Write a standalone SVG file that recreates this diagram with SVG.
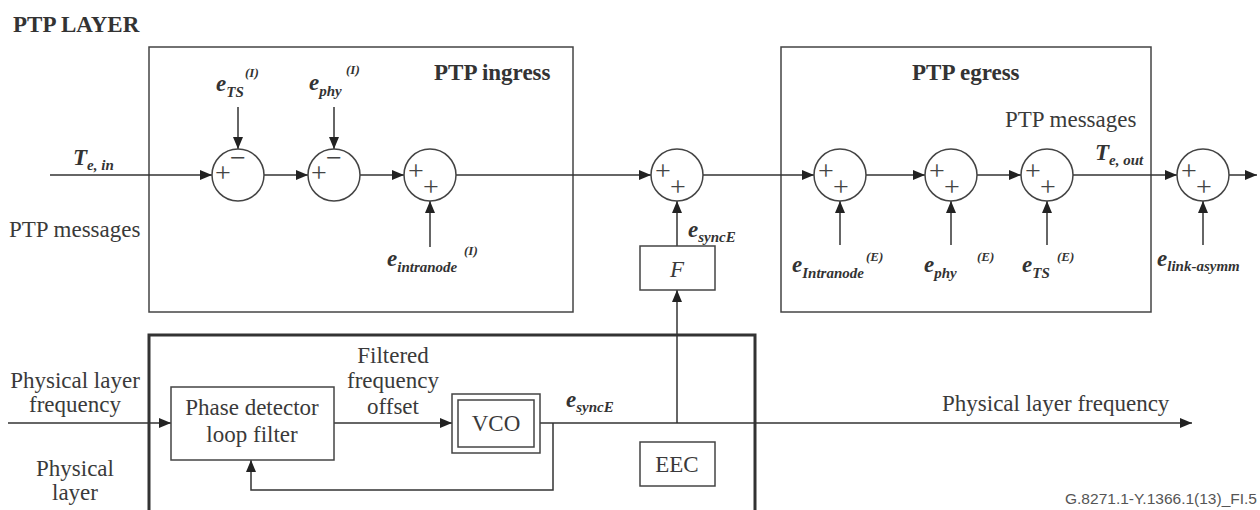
<svg xmlns="http://www.w3.org/2000/svg" width="1260" height="510" viewBox="0 0 1260 510">
<style>
.bg{fill:#fff}
.box{fill:none;stroke:#444;stroke-width:1.5}
.thick{fill:none;stroke:#333;stroke-width:3}
.sum{fill:#fff;stroke:#444;stroke-width:1.5}
.ln{fill:none;stroke:#333;stroke-width:1.5}
.ar{marker-end:url(#arr)}
.t{font-family:"Liberation Serif","Times New Roman",serif;font-size:23px;fill:#3a3a3a}
.tb{font-family:"Liberation Serif","Times New Roman",serif;font-size:23px;font-weight:bold;fill:#333}
.sg{font-family:"Liberation Serif","Times New Roman",serif;font-size:28px;fill:#444;text-anchor:middle}
.e{font-family:"Liberation Serif","Times New Roman",serif;font-size:23px;font-weight:bold;font-style:italic;fill:#333}
.sub{font-size:15px}
.sup{font-family:"Liberation Serif","Times New Roman",serif;font-size:13px;font-weight:bold;font-style:italic;fill:#333}
.c{text-anchor:middle}
.foot{font-family:"Liberation Sans",Arial,sans-serif;font-size:15px;fill:#555}
</style>
<defs>
<marker id="arr" viewBox="0 0 12 10" refX="12" refY="5" markerWidth="12" markerHeight="10" orient="auto" markerUnits="userSpaceOnUse">
<path d="M0,0 L12,5 L0,10 z" fill="#222"/>
</marker>
</defs>
<rect class="bg" x="0" y="0" width="1260" height="510"/>

<text class="tb" x="13" y="32">PTP LAYER</text>

<g id="ptp-ingress">
<rect class="box" x="149" y="47" width="424" height="265"/>
<text class="tb" x="434" y="80">PTP ingress</text>
</g>
<g id="ptp-egress">
<rect class="box" x="781" y="47" width="370" height="265"/>
<text class="tb" x="912" y="80">PTP egress</text>
<text class="t" x="1005" y="127">PTP messages</text>
</g>
<g id="physical-box">
<rect class="thick" x="149" y="335" width="606" height="200"/>
</g>

<g id="connectors">
<path class="ln ar" d="M50,175 H212"/>
<path class="ln ar" d="M264,175 H308"/>
<path class="ln ar" d="M360,175 H404"/>
<path class="ln ar" d="M456,175 H651"/>
<path class="ln ar" d="M703,175 H814"/>
<path class="ln ar" d="M866,175 H925"/>
<path class="ln ar" d="M977,175 H1021"/>
<path class="ln ar" d="M1073,175 H1177"/>
<path class="ln ar" d="M1229,175 H1257"/>
<path class="ln ar" d="M238,107 V149"/>
<path class="ln ar" d="M334,107 V149"/>
<path class="ln ar" d="M430,247 V201"/>
<path class="ln ar" d="M677,246 V201"/>
<path class="ln ar" d="M840,245 V201"/>
<path class="ln ar" d="M951,245 V201"/>
<path class="ln ar" d="M1047,245 V201"/>
<path class="ln ar" d="M1203,245 V201"/>
<path class="ln ar" d="M677,423 V290"/>
<path class="ln ar" d="M8,423 H171"/>
<path class="ln ar" d="M334,423 H452"/>
<path class="ln ar" d="M540,423 H1192"/>
<path class="ln ar" d="M553,423 V490 H251 V460"/>
</g>

<g id="sum-ts-in">
<circle class="sum" cx="238" cy="175" r="26"/>
<text class="sg" x="223" y="182">+</text>
<text class="sg" x="238" y="167">−</text>
</g>
<g id="sum-phy-in">
<circle class="sum" cx="334" cy="175" r="26"/>
<text class="sg" x="319" y="182">+</text>
<text class="sg" x="334" y="167">−</text>
</g>
<g id="sum-intranode-in">
<circle class="sum" cx="430" cy="175" r="26"/>
<text class="sg" x="416" y="180">+</text>
<text class="sg" x="431" y="196">+</text>
</g>
<g id="sum-synce">
<circle class="sum" cx="677" cy="175" r="26"/>
<text class="sg" x="663" y="180">+</text>
<text class="sg" x="678" y="196">+</text>
</g>
<g id="sum-intranode-out">
<circle class="sum" cx="840" cy="175" r="26"/>
<text class="sg" x="826" y="180">+</text>
<text class="sg" x="841" y="196">+</text>
</g>
<g id="sum-phy-out">
<circle class="sum" cx="951" cy="175" r="26"/>
<text class="sg" x="937" y="180">+</text>
<text class="sg" x="952" y="196">+</text>
</g>
<g id="sum-ts-out">
<circle class="sum" cx="1047" cy="175" r="26"/>
<text class="sg" x="1033" y="180">+</text>
<text class="sg" x="1048" y="196">+</text>
</g>
<g id="sum-link">
<circle class="sum" cx="1203" cy="175" r="26"/>
<text class="sg" x="1189" y="180">+</text>
<text class="sg" x="1204" y="196">+</text>
</g>

<g id="labels-ptp">
<text class="e" x="73" y="165">T<tspan class="sub" dy="5">e, in</tspan></text>
<text class="t" x="9" y="237">PTP messages</text>
<text class="e" x="216" y="91">e<tspan class="sub" dy="6">TS</tspan></text>
<text class="sup" x="245" y="77">(I)</text>
<text class="e" x="309" y="90">e<tspan class="sub" dy="6">phy</tspan></text>
<text class="sup" x="346" y="74">(I)</text>
<text class="e" x="387" y="266">e<tspan class="sub" dy="6">intranode</tspan></text>
<text class="sup" x="464" y="255">(I)</text>
<text class="e" x="792" y="272">e<tspan class="sub" dy="6">Intranode</tspan></text>
<text class="sup" x="866" y="261">(E)</text>
<text class="e" x="924" y="272">e<tspan class="sub" dy="6">phy</tspan></text>
<text class="sup" x="977" y="261">(E)</text>
<text class="e" x="1022" y="272">e<tspan class="sub" dy="6">TS</tspan></text>
<text class="sup" x="1057" y="261">(E)</text>
<text class="e" x="1157" y="266">e<tspan class="sub" dy="5">link-asymm</tspan></text>
<text class="e" x="1095" y="160">T<tspan class="sub" dy="5">e, out</tspan></text>
<text class="e" x="688" y="237">e<tspan class="sub" dy="5">syncE</tspan></text>
</g>

<g id="F">
<rect class="box" x="640" y="246" width="75" height="44"/>
<text class="t c" x="677" y="277" font-style="italic">F</text>
</g>
<g id="phase-detector">
<rect class="box" x="171" y="387" width="163" height="73"/>
<text class="t c" x="252" y="415">Phase detector</text>
<text class="t c" x="252" y="442">loop filter</text>
</g>
<g id="VCO">
<rect class="box" x="452" y="394" width="88" height="59"/>
<rect class="box" x="458" y="400" width="76" height="47"/>
<text class="t c" x="496" y="431">VCO</text>
</g>
<g id="EEC">
<rect class="box" x="640" y="442" width="75" height="44"/>
<text class="t c" x="677" y="472">EEC</text>
</g>

<g id="labels-phy">
<text class="t c" x="393" y="363">Filtered</text>
<text class="t c" x="393" y="388">frequency</text>
<text class="t c" x="393" y="414">offset</text>
<text class="e" x="566" y="407">e<tspan class="sub" dy="5">syncE</tspan></text>
<text class="t c" x="75" y="388">Physical layer</text>
<text class="t c" x="75" y="412">frequency</text>
<text class="t c" x="75" y="476">Physical</text>
<text class="t c" x="75" y="500">layer</text>
<text class="t" x="942" y="411">Physical layer frequency</text>
</g>

<text class="foot" x="1065" y="504" textLength="192" lengthAdjust="spacingAndGlyphs">G.8271.1-Y.1366.1(13)_FI.5</text>
</svg>
